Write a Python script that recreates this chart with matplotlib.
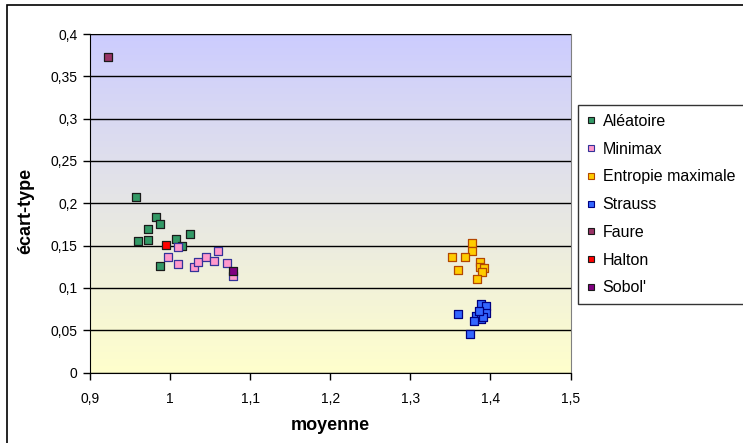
import numpy as np
import matplotlib.pyplot as plt
from matplotlib.lines import Line2D
from matplotlib.patches import Rectangle
from matplotlib.ticker import FuncFormatter

plt.rcParams['font.family'] = ['Liberation Sans', 'DejaVu Sans']

# données (moyenne, écart-type)
alea_x = [0.957, 0.982, 0.987, 0.972, 1.025, 0.960, 0.972, 1.008, 1.015, 0.988]
alea_y = [0.207, 0.184, 0.176, 0.170, 0.164, 0.155, 0.156, 0.158, 0.150, 0.126]

minimax_x = [1.010, 0.998, 1.010, 1.030, 1.035, 1.045, 1.055, 1.060, 1.071, 1.079]
minimax_y = [0.148, 0.137, 0.128, 0.125, 0.131, 0.137, 0.132, 0.143, 0.129, 0.114]

entropie_x = [1.377, 1.377, 1.352, 1.368, 1.387, 1.387, 1.392, 1.390, 1.360, 1.383]
entropie_y = [0.153, 0.143, 0.137, 0.137, 0.131, 0.125, 0.123, 0.119, 0.121, 0.110]

strauss_x = [1.388, 1.394, 1.395, 1.360, 1.382, 1.388, 1.380, 1.391, 1.386, 1.375]
strauss_y = [0.081, 0.078, 0.070, 0.069, 0.067, 0.063, 0.061, 0.066, 0.073, 0.045]

faure_x = [0.923]
faure_y = [0.373]

halton_x = [0.995]
halton_y = [0.151]

sobol_x = [1.078]
sobol_y = [0.120]

series = [
    ("Aléatoire", alea_x, alea_y, "#339966", "#1a1a1a"),
    ("Minimax", minimax_x, minimax_y, "#FF99CC", "#333399"),
    ("Entropie maximale", entropie_x, entropie_y, "#FFCC00", "#B34700"),
    ("Strauss", strauss_x, strauss_y, "#3366FF", "#000080"),
    ("Faure", faure_x, faure_y, "#993366", "#1a1a1a"),
    ("Halton", halton_x, halton_y, "#FF0000", "#1a1a1a"),
    ("Sobol'", sobol_x, sobol_y, "#800080", "#1a1a1a"),
]

fig = plt.figure(figsize=(7.43, 4.43), dpi=100)
ax = fig.add_axes([90 / 743, 1 - 372.5 / 443, 480.5 / 743, 338.5 / 443])

ax.set_xlim(0.9, 1.5)
ax.set_ylim(0, 0.4)

# fond dégradé bleu -> jaune
top = np.array([204, 204, 255]) / 255
bot = np.array([255, 255, 204]) / 255
t = np.linspace(0, 1, 256)[:, None]
grad = (bot * (1 - t) + top * t)[:, None, :]
ax.imshow(grad, extent=[0.9, 1.5, 0, 0.4], origin='lower', aspect='auto', zorder=0)

ax.set_yticks(np.arange(0, 0.401, 0.05))
ax.set_xticks(np.arange(0.9, 1.501, 0.1))
ax.yaxis.grid(True, color='black', linewidth=1.0, zorder=1)
ax.set_axisbelow(False)

fmt = FuncFormatter(lambda v, p: ("%g" % round(v, 2)).replace('.', ','))
ax.xaxis.set_major_formatter(fmt)
ax.yaxis.set_major_formatter(fmt)
ax.tick_params(direction='out', length=5, width=1, labelsize=10, pad=4)
ax.tick_params(axis='x', pad=9)

for s in ['top', 'right']:
    ax.spines[s].set_color('#808080')
for s in ['left', 'bottom']:
    ax.spines[s].set_color('black')

for name, xs, ys, fc, ec in series:
    ax.scatter(xs, ys, marker='s', s=34, facecolor=fc, edgecolor=ec,
               linewidth=0.9, zorder=3)

ax.set_xlabel("moyenne", fontsize=13, fontweight='bold', labelpad=8)
ax.set_ylabel("écart-type", fontsize=13, fontweight='bold')
ax.yaxis.set_label_coords(-0.115, 0.476)

handles = [Line2D([], [], linestyle='none', marker='s', markersize=5,
                  markerfacecolor=fc, markeredgecolor=ec, markeredgewidth=0.8)
           for name, xs, ys, fc, ec in series]
labels = [s[0] for s in series]
leg = fig.legend(handles, labels, loc='upper left',
                 bbox_to_anchor=(578 / 743, 1 - 105 / 443),
                 fontsize=11.5, frameon=True, fancybox=False, borderpad=0.55,
                 labelspacing=0.8, handlelength=0.55, handletextpad=0.45,
                 borderaxespad=0)
leg.get_frame().set_edgecolor('black')
leg.get_frame().set_linewidth(1.0)

# cadre extérieur
fig.patches.append(Rectangle((7 / 743, -0.1), 1.1, 1.1 - 5 / 443,
                             transform=fig.transFigure, fill=False,
                             edgecolor='black', linewidth=1.2))

fig.savefig("out.png", dpi=100)
